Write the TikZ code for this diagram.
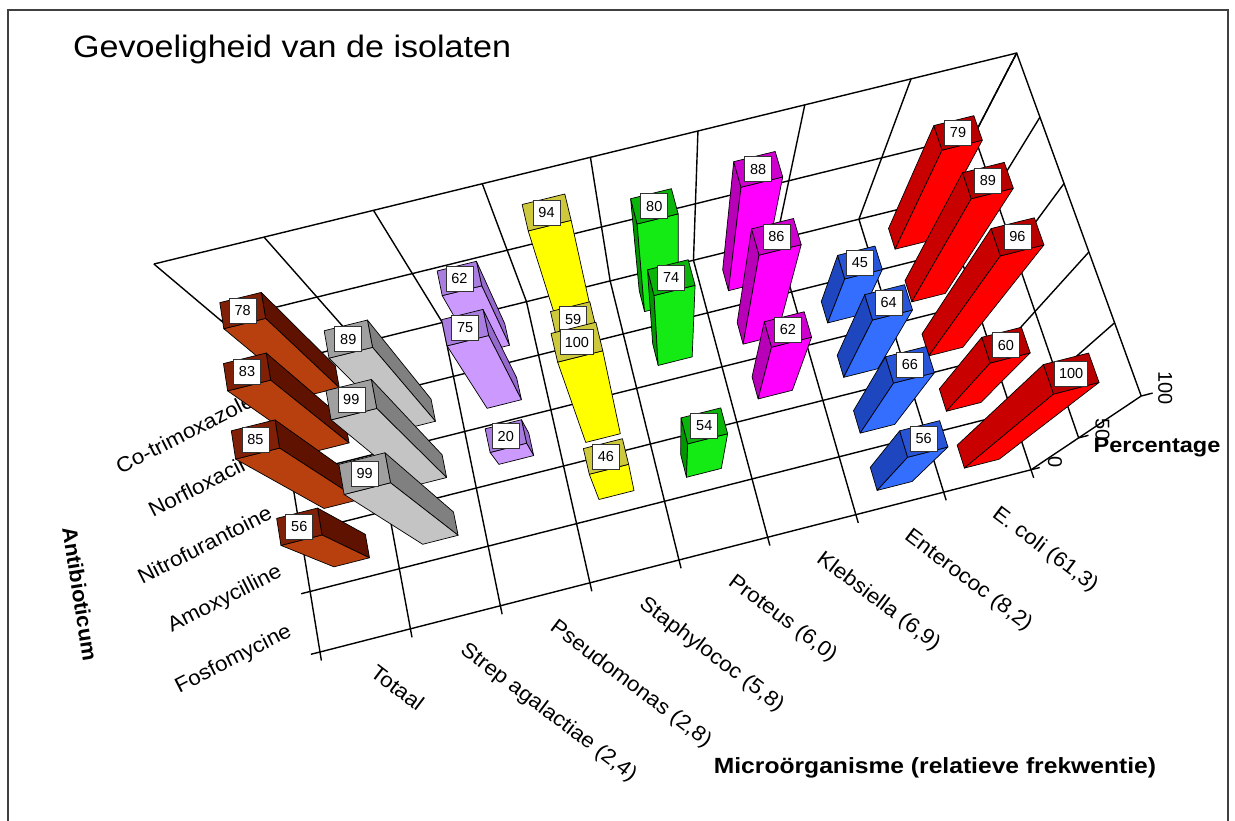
\documentclass[tikz,border=0pt]{standalone}
\usepackage{fontspec}
\setmainfont{Liberation Sans}
\usepackage{graphicx}
\definecolor{brF}{RGB}{184,64,14}\definecolor{brS}{RGB}{96,18,0}\definecolor{brT}{RGB}{128,32,6}
\definecolor{gyF}{RGB}{196,196,196}\definecolor{gyS}{RGB}{128,128,128}\definecolor{gyT}{RGB}{160,160,160}
\definecolor{puF}{RGB}{204,153,255}\definecolor{puS}{RGB}{150,105,205}\definecolor{puT}{RGB}{170,125,225}
\definecolor{yeF}{RGB}{255,255,0}\definecolor{yeS}{RGB}{190,185,40}\definecolor{yeT}{RGB}{205,200,60}
\definecolor{gnF}{RGB}{20,235,20}\definecolor{gnS}{RGB}{0,150,0}\definecolor{gnT}{RGB}{10,180,10}
\definecolor{mgF}{RGB}{255,0,255}\definecolor{mgS}{RGB}{185,0,185}\definecolor{mgT}{RGB}{205,0,205}
\definecolor{blF}{RGB}{51,110,255}\definecolor{blS}{RGB}{30,70,190}\definecolor{blT}{RGB}{40,85,215}
\definecolor{rdF}{RGB}{255,0,0}\definecolor{rdS}{RGB}{200,0,0}\definecolor{rdT}{RGB}{185,0,0}
\tikzset{
  gline/.style={line width=1.4pt,black},
  barface/.style={draw=black,line width=0.7pt,line join=round},
  lbl/.style={draw=black!80,fill=white,line width=0.6pt,font=\fontsize{14.5}{14.5}\selectfont,inner xsep=4.5pt,inner ysep=0pt,minimum height=25pt,minimum width=27pt},
  mstyle/.style={anchor=north west,rotate=-37,inner sep=0pt,font=\fontsize{21}{21}\selectfont},
  astyle/.style={anchor=base east,rotate=27,inner sep=0pt,font=\fontsize{21}{21}\selectfont},
  pstyle/.style={rotate=-90,inner sep=0pt,font=\fontsize{20}{20}\selectfont},
  btitle/.style={font=\bfseries\fontsize{21}{21}\selectfont,inner sep=0pt}
}
% perspective projection of (X,Y,Z) -> image pixels
\newcommand\PP[4]{%
  \pgfmathsetmacro\pw{1+0.002486*(#2)+0.01342*(#3)-0.00243*(#4)}%
  \pgfmathsetmacro\pu{(320+91.44*(#2)-5.72*(#3)-1.6451*(#4))/\pw}%
  \pgfmathsetmacro\pv{(652-21.61*(#2)-52.6*(#3)-1.7132*(#4))/\pw}%
  \coordinate (#1) at (\pu,\pv);}
% bar: X cell, Y cell, value, colour prefix, side (0 none,1 right,2 left), label name
\newcommand\cbar[6]{%
  \pgfmathsetmacro\xa{#1+0.3}\pgfmathsetmacro\xb{#1+0.7}%
  \pgfmathsetmacro\ya{#2+0.3}\pgfmathsetmacro\yb{#2+0.7}%
  \pgfmathsetmacro\xc{#1+0.5}\pgfmathsetmacro\yc{#2+0.5}%
  \PP{b1}{\xa}{\ya}{0}\PP{b2}{\xb}{\ya}{0}\PP{b3}{\xb}{\yb}{0}\PP{b4}{\xa}{\yb}{0}%
  \PP{t1}{\xa}{\ya}{#3}\PP{t2}{\xb}{\ya}{#3}\PP{t3}{\xb}{\yb}{#3}\PP{t4}{\xa}{\yb}{#3}%
  \PP{tc}{\xc}{\yc}{#3}%
  \ifcase#5\or
    \filldraw[barface,fill=#4S] (b2)--(b3)--(t3)--(t2)--cycle;\or
    \filldraw[barface,fill=#4S] (b1)--(b4)--(t4)--(t1)--cycle;\fi
  \filldraw[barface,fill=#4F] (b1)--(b2)--(t2)--(t1)--cycle;
  \filldraw[barface,fill=#4T] (t1)--(t2)--(t3)--(t4)--cycle;
  \node[lbl] (#6) at (tc) {#3};}
\newcommand\mlab[3]{\PP{mc}{#1+0.5}{0}{0}\path (mc) ++(13,23) node[mstyle] (#3) {\scalebox{1.07}[1]{#2}};}
\newcommand\alab[3]{\PP{ac}{0}{#1+0.5}{0}\path (ac) ++(-22,14) node[astyle] (#3) {\scalebox{1.07}[1]{#2}};}
\begin{document}
\begin{tikzpicture}[x=1pt,y=-1pt]
\useasboundingbox (0,0) rectangle (1235,821);
\fill[white] (0,0) rectangle (1235,821);
\draw[line width=1.6pt,black!75] (8,821) -- (8,10) -- (1228,10) -- (1228,821);
\node[anchor=base west,inner sep=0pt,font=\fontsize{31}{31}\selectfont] (title) at (73,58) {\scalebox{1.1}[1]{Gevoeligheid van de isolaten}};
% grid: floor, back wall, side wall
\foreach \i in {0,...,8}{\PP{ga}{\i}{0}{0}\PP{gb}{\i}{5}{0}\PP{gc}{\i}{5}{100}\draw[gline] (ga)--(gb)--(gc);}
\foreach \j in {0,...,5}{\PP{ga}{0}{\j}{0}\PP{gb}{8}{\j}{0}\PP{gc}{8}{\j}{100}\draw[gline] (ga)--(gb)--(gc);}
\foreach \z in {50,100}{\PP{ga}{0}{5}{\z}\PP{gb}{8}{5}{\z}\PP{gc}{8}{0}{\z}\draw[gline] (ga)--(gb)--(gc);}
% ticks
\foreach \i in {0,...,8}{\PP{ta}{\i}{0}{0}\PP{tb}{\i}{-0.14}{0}\draw[gline] (ta)--(tb);}
\foreach \j in {0,...,5}{\PP{ta}{0}{\j}{0}\PP{tb}{-0.1}{\j}{0}\draw[gline] (ta)--(tb);}
\foreach \z in {0,50,100}{\PP{ta}{8}{0}{\z}\PP{tb}{8.1}{0}{\z}\draw[gline] (ta)--(tb);
  \path (ta) ++(24,-8) node[pstyle] (p\z) {\z};}
% axis labels
\mlab{0}{Totaal}{m0}
\mlab{1}{Strep agalactiae (2,4)}{m1}
\mlab{2}{Pseudomonas (2,8)}{m2}
\mlab{3}{Staphylococ (5,8)}{m3}
\mlab{4}{Proteus (6,0)}{m4}
\mlab{5}{Klebsiella (6,9)}{m5}
\mlab{6}{Enterococ (8,2)}{m6}
\mlab{7}{E. coli (61,3)}{m7}
\alab{4}{Co-trimoxazole}{a4}
\alab{3}{Norfloxacine}{a3}
\alab{2}{Nitrofurantoine}{a2}
\alab{1}{Amoxycilline}{a1}
\alab{0}{Fosfomycine}{a0}
\node[btitle,rotate=-81] (yt) at (80,594) {\scalebox{1.05}[1]{Antibioticum}};
\node[btitle] (zt) at (1157,447) {\scalebox{1.12}[1]{Percentage}};
\node[btitle,font=\bfseries\fontsize{22}{22}\selectfont] (xt) at (935,768) {\scalebox{1.12}[1]{Microörganisme (relatieve frekwentie)}};
% bars, far to near
\cbar{7}{4}{79}{rd}{2}{L74}
\cbar{0}{4}{78}{br}{1}{L04}
\cbar{5}{4}{88}{mg}{2}{L54}
\cbar{7}{3}{89}{rd}{2}{L73}
\cbar{2}{4}{62}{pu}{1}{L24}
\cbar{4}{4}{80}{gn}{2}{L44}
\cbar{3}{4}{94}{ye}{0}{L34}
\cbar{0}{3}{83}{br}{1}{L03}
\cbar{6}{3}{45}{bl}{2}{L63}
\cbar{7}{2}{96}{rd}{2}{L72}
\cbar{1}{3}{89}{gy}{1}{L13}
\cbar{5}{3}{86}{mg}{2}{L53}
\cbar{2}{3}{75}{pu}{1}{L23}
\cbar{4}{3}{74}{gn}{2}{L43}
\cbar{3}{3}{59}{ye}{0}{L33}
\cbar{0}{2}{85}{br}{1}{L02}
\cbar{6}{2}{64}{bl}{2}{L62}
\cbar{7}{1}{60}{rd}{2}{L71}
\cbar{1}{2}{99}{gy}{1}{L12}
\cbar{5}{2}{62}{mg}{2}{L52}
\cbar{2}{2}{20}{pu}{1}{L22}
\cbar{0}{1}{56}{br}{1}{L01}
\cbar{7}{0}{100}{rd}{2}{L70}
\cbar{3}{2}{100}{ye}{0}{L32}
\cbar{6}{1}{66}{bl}{2}{L61}
\cbar{1}{1}{99}{gy}{1}{L11}
\cbar{6}{0}{56}{bl}{2}{L60}
\cbar{4}{1}{54}{gn}{2}{L41}
\cbar{3}{1}{46}{ye}{0}{L31}
\end{tikzpicture}
\end{document}
